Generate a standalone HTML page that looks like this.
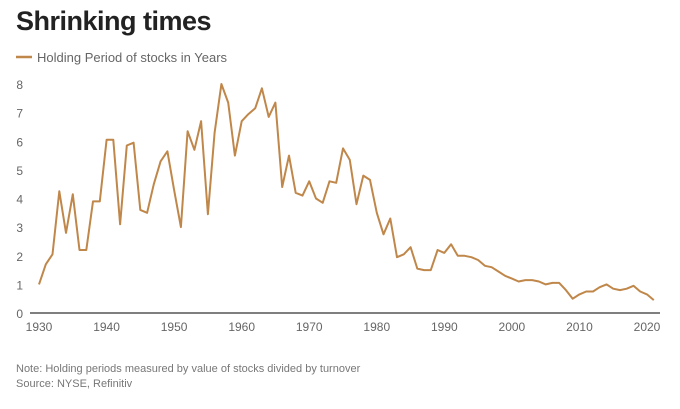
<!DOCTYPE html>
<html><head><meta charset="utf-8"><style>
body{margin:0;background:#fff;width:680px;height:404px;overflow:hidden;font-family:"Liberation Sans",sans-serif}
svg text{font-family:"Liberation Sans",sans-serif}
</style></head><body>
<svg width="680" height="404">
<text x="16" y="30" font-size="27" font-weight="bold" fill="#222" letter-spacing="-0.5">Shrinking times</text>
<line x1="16" y1="57" x2="32" y2="57" stroke="#c0874a" stroke-width="2.5"/>
<text x="37" y="62" font-size="13" fill="#666">Holding Period of stocks in Years</text>
<g id="yax"></g>
<g id="xax"></g>
<line x1="30" y1="313" x2="660" y2="313" stroke="#555" stroke-width="1.5"/>
<path id="line" fill="none" stroke="#c0874a" stroke-width="2" stroke-linejoin="round"/>
<text x="16" y="372" font-size="11" fill="#777">Note: Holding periods measured by value of stocks divided by turnover</text>
<text x="16" y="387" font-size="11" fill="#777">Source: NYSE, Refinitiv</text>
</svg>
<script>
const startYear = 1930;
const values = [1.0,1.7,2.05,4.25,2.8,4.15,2.2,2.2,3.9,3.9,6.05,6.05,3.1,5.85,5.95,3.6,3.5,4.5,5.3,5.65,4.3,3.0,6.35,5.7,6.7,3.45,6.3,8.0,7.35,5.5,6.7,6.95,7.15,7.85,6.85,7.35,4.4,5.5,4.2,4.1,4.6,4.0,3.85,4.6,4.55,5.75,5.35,3.8,4.8,4.65,3.5,2.75,3.3,1.95,2.05,2.3,1.55,1.5,1.5,2.2,2.1,2.4,2.0,2.0,1.95,1.85,1.65,1.6,1.45,1.3,1.2,1.1,1.15,1.15,1.1,1.0,1.05,1.05,0.8,0.5,0.65,0.75,0.75,0.9,1.0,0.85,0.8,0.85,0.95,0.75,0.65,0.45];
const yTicks = [0,1,2,3,4,5,6,7,8];
const xTicks = [1930,1940,1950,1960,1970,1980,1990,2000,2010,2020];
const X = y => 39 + (y - 1930) * (608 / 90);
const Y = v => 313 - v * (229 / 8);
const NS = "http://www.w3.org/2000/svg";
const yax = document.getElementById('yax'), xax = document.getElementById('xax');
yTicks.forEach(t => {
  const el = document.createElementNS(NS, 'text');
  
  
  el.setAttribute('x', 23); el.setAttribute('y', Y(t) + 5);
  el.setAttribute('text-anchor', 'end'); el.setAttribute('font-size', '12'); el.setAttribute('fill', '#666');
  el.textContent = t; yax.appendChild(el);
});
xTicks.forEach(t => {
  const el = document.createElementNS(NS, 'text');
  
  
  el.setAttribute('x', X(t)); el.setAttribute('y', 331);
  el.setAttribute('text-anchor', 'middle'); el.setAttribute('font-size', '12'); el.setAttribute('fill', '#666');
  el.textContent = t; xax.appendChild(el);
});
document.getElementById('line').setAttribute('d', values.map((v, i) => (i ? 'L' : 'M') + X(startYear + i).toFixed(1) + ',' + Y(v).toFixed(1)).join(''));
</script>
</body></html>
